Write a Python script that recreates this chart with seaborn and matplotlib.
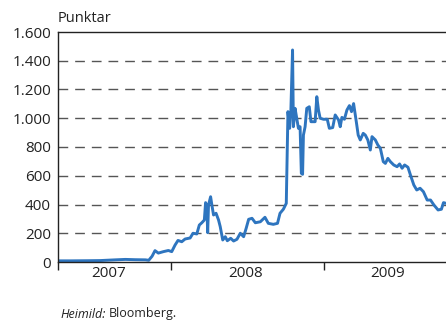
import matplotlib
matplotlib.use("Agg")
import matplotlib.pyplot as plt
import matplotlib.dates as mdates
import seaborn as sns
import pandas as pd

dates = [
    "2007-04-06", "2007-05-04", "2007-06-16", "2007-07-15", "2007-08-20", "2007-09-13",
    "2007-10-07", "2007-10-31", "2007-11-08", "2007-11-16", "2007-11-23", "2007-12-01",
    "2007-12-13", "2007-12-25", "2008-01-02", "2008-01-10", "2008-01-17", "2008-01-26",
    "2008-02-03", "2008-02-15", "2008-02-22", "2008-03-02", "2008-03-08", "2008-03-14",
    "2008-03-20", "2008-03-23", "2008-03-26", "2008-03-28", "2008-03-30", "2008-04-04",
    "2008-04-07", "2008-04-11", "2008-04-17", "2008-04-23", "2008-04-27", "2008-05-03",
    "2008-05-09", "2008-05-14", "2008-05-22", "2008-05-29", "2008-06-06", "2008-06-14",
    "2008-06-22", "2008-06-28", "2008-07-04", "2008-07-12", "2008-07-20", "2008-08-01",
    "2008-08-12", "2008-08-20", "2008-09-01", "2008-09-11", "2008-09-17", "2008-09-25",
    "2008-10-02", "2008-10-03", "2008-10-06", "2008-10-10", "2008-10-13", "2008-10-17",
    "2008-10-19", "2008-10-23", "2008-10-27", "2008-10-31", "2008-11-04", "2008-11-07",
    "2008-11-10", "2008-11-12", "2008-11-16", "2008-11-20", "2008-11-26", "2008-11-30",
    "2008-12-10", "2008-12-14", "2008-12-18", "2008-12-22", "2008-12-30", "2009-01-08",
    "2009-01-13", "2009-01-21", "2009-01-27", "2009-02-04", "2009-02-08", "2009-02-12",
    "2009-02-18", "2009-02-24", "2009-03-02", "2009-03-07", "2009-03-12", "2009-03-19",
    "2009-03-23", "2009-03-28", "2009-04-04", "2009-04-09", "2009-04-15", "2009-04-21",
    "2009-04-25", "2009-05-03", "2009-05-09", "2009-05-15", "2009-05-22", "2009-05-27",
    "2009-06-02", "2009-06-08", "2009-06-16", "2009-06-24", "2009-06-30", "2009-07-06",
    "2009-07-12", "2009-07-20", "2009-07-26", "2009-08-03", "2009-08-10", "2009-08-18",
    "2009-08-26", "2009-09-04", "2009-09-12", "2009-09-20", "2009-09-30", "2009-10-08",
    "2009-10-13", "2009-10-19",
]
punktar = [
    8, 8, 9, 10, 15, 18,
    16, 15, 12, 40, 79, 62,
    72, 80, 72, 118, 150, 141,
    160, 167, 200, 195, 257, 273,
    292, 413, 385, 204, 397, 454,
    397, 327, 339, 292, 246, 153,
    176, 148, 165, 146, 158, 200,
    176, 234, 297, 304, 273, 280,
    311, 269, 262, 269, 339, 367,
    408, 570, 1046, 930, 1057, 1475,
    941, 1069, 1000, 930, 941, 617,
    610, 883, 941, 1069, 1080, 976,
    976, 1150, 1057, 1000, 993, 993,
    930, 935, 1023, 988, 941, 1006,
    993, 1057, 1088, 1046, 1102, 965,
    883, 849, 895, 883, 849, 779,
    872, 849, 814, 791, 698, 686,
    721, 698, 675, 663, 682, 652,
    675, 659, 605, 536, 501, 513,
    489, 431, 431, 397, 362, 367,
    413, 408,
]

y_ticks = [0, 200, 400, 600, 800, 1000, 1200, 1400, 1600]
y_tick_labels = ["0", "200", "400", "600", "800", "1.000", "1.200", "1.400", "1.600"]
year_labels = ["2007", "2008", "2009"]
year_label_pos = ["2007-08-03", "2008-06-27", "2009-06-02"]
year_bounds = ["2007-04-05", "2008-01-01", "2009-01-01"]
x_start, x_end = "2007-04-05", "2009-10-19"

df = pd.DataFrame({"dags": pd.to_datetime(dates), "punktar": punktar})

sns.set_style("white")
plt.rcParams["font.family"] = ["Open Sans", "DejaVu Sans"]

fig = plt.figure(figsize=(4.46, 3.21), dpi=100)
ax = fig.add_axes([58 / 446, 59 / 321, 1.0 - 58 / 446, 230 / 321])

sns.lineplot(data=df, x="dags", y="punktar", ax=ax, color="#2e75bf", linewidth=2.1)

ax.set_xlim(pd.Timestamp(x_start), pd.Timestamp(x_end))
ax.set_ylim(0, 1600)
ax.set_yticks(y_ticks)
ax.set_yticklabels(y_tick_labels)
for yv in y_ticks[1:-1]:
    ax.axhline(yv, color="#555555", linewidth=1.0, linestyle=(0, (7, 5)), zorder=0)

ax.set_xticks([mdates.date2num(pd.Timestamp(d)) for d in year_bounds])
ax.set_xticklabels([])
ax.set_xticks([mdates.date2num(pd.Timestamp(d)) for d in year_label_pos], minor=True)
ax.set_xticklabels(year_labels, minor=True)
ax.tick_params(axis="x", which="major", direction="out", length=6, width=1.0, color="#222222", bottom=True)
ax.tick_params(axis="x", which="minor", length=0, pad=3, labelsize=11, labelcolor="#222222")
ax.tick_params(axis="y", length=0, pad=5, labelsize=11, labelcolor="#222222")

ax.set_xlabel("")
ax.set_ylabel("")
for side in ["left", "top", "bottom"]:
    ax.spines[side].set_visible(True)
    ax.spines[side].set_color("#222222")
    ax.spines[side].set_linewidth(1.0)
ax.spines["right"].set_visible(False)

fig.text(58 / 446, 1 - 18 / 321, "Punktar", fontsize=10.5, color="#222222", ha="left", va="center")
t1 = fig.text(60 / 446, 1 - 314 / 321, "Heimild:", fontsize=9, style="italic", color="#222222", ha="left", va="center")
fig.canvas.draw()
bb = t1.get_window_extent()
fig.text((bb.x1 + 3) / 446, 1 - 314 / 321, "Bloomberg.", fontsize=9, color="#222222", ha="left", va="center")

fig.savefig("out.png", dpi=100)
